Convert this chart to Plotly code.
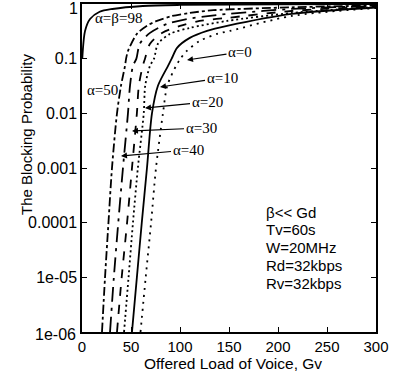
import plotly.graph_objects as go

# ---- data ----
a50_x = [20.4, 23.5, 27.0, 30.6, 35.7, 39.8, 43.9, 45.0, 47.0, 56.0, 66.0, 76.5, 92.0, 110.0, 134.0, 214.0, 300.0]
a50_y = [1e-6, 1e-5, 1e-4, 1e-3, 1e-2, 0.032, 0.074, 0.1, 0.139, 0.284, 0.397, 0.49, 0.604, 0.685, 0.77, 0.87, 0.94]

a40_x = [28.6, 32.5, 37.0, 41.8, 46.9, 49.0, 52.0, 55.5, 59.0, 69.4, 86.7, 107.0, 130.6, 148.0, 214.0, 300.0]
a40_y = [1e-6, 1e-5, 1e-4, 1e-3, 1e-2, 0.032, 0.074, 0.1, 0.187, 0.296, 0.432, 0.532, 0.604, 0.657, 0.811, 0.919]

a30_x = [35.7, 40.5, 46.0, 51.0, 56.0, 58.0, 62.0, 64.3, 69.4, 81.6, 100.0, 120.0, 148.0, 214.0, 300.0]
a30_y = [1e-6, 1e-5, 1e-4, 1e-3, 1e-2, 0.032, 0.074, 0.1, 0.187, 0.296, 0.397, 0.49, 0.556, 0.745, 0.90]

a20_x = [42.9, 47.5, 52.0, 57.0, 63.0, 64.5, 69.4, 73.5, 77.5, 89.8, 110.0, 148.0, 214.0, 300.0]
a20_y = [1e-6, 1e-5, 1e-4, 1e-3, 1e-2, 0.032, 0.074, 0.1, 0.187, 0.284, 0.365, 0.49, 0.685, 0.882]

a10_x = [51.0, 56.0, 61.0, 66.3, 71.4, 77.5, 87.8, 91.5, 97.0, 110.0, 127.6, 148.0, 214.0, 300.0]
a10_y = [1e-6, 1e-5, 1e-4, 1e-3, 1e-2, 0.032, 0.074, 0.1, 0.158, 0.24, 0.322, 0.397, 0.657, 0.863]

a0_x = [59.7, 65.0, 70.5, 75.5, 82.6, 87.0, 96.0, 100.5, 107.0, 120.0, 138.0, 151.0, 214.0, 300.0]
a0_y = [1e-6, 1e-5, 1e-4, 1e-3, 1e-2, 0.032, 0.074, 0.1, 0.139, 0.211, 0.284, 0.322, 0.604, 0.845]

a98_x = [0.3, 3.1, 8.2, 18.0, 31.0, 62.0, 100.0, 200.0, 300.0]
a98_y = [0.1, 0.32, 0.53, 0.72, 0.81, 0.92, 0.96, 0.985, 0.995]

y_tickvals = [1, 0.1, 0.01, 0.001, 0.0001, 1e-5, 1e-6]
y_ticktext = ["1", "0.1", "0.01", "0.001", "0.0001", "1e-05", "1e-06"]
x_tickvals = [0, 50, 100, 150, 200, 250, 300]

params = ["\u03b2&lt;&lt; Gd", "Tv=60s", "W=20MHz", "Rd=32kbps", "Rv=32kbps"]

series = [
    (a50_x, a50_y, "dashdot"),
    (a40_x, a40_y, "longdashdot"),
    (a30_x, a30_y, "dash"),
    (a20_x, a20_y, "2px,3px"),
    (a10_x, a10_y, "solid"),
    (a0_x, a0_y, "2px,5px"),
    (a98_x, a98_y, "solid"),
]

fig = go.Figure()
for xs, ys, dash in series:
    fig.add_trace(go.Scatter(x=xs, y=ys, mode="lines",
                             line=dict(color="black", width=1.8, dash=dash, shape="spline", smoothing=0.8),
                             showlegend=False, hoverinfo="skip"))

# helpers converting pixel positions (for text placement) into axis coordinates
L, R, T, B = 82, 376, 4, 332
def dx(px):
    return (px - L) * 300.0 / (R - L)
def dy(py):
    return -6.0 * (py - T) / (B - T)
def paper_x(px):
    return (px - L) / (R - L)
def paper_y(py):
    return (B - py) / (B - T)

FAM_SANS = "Liberation Sans, Arial, Helvetica, sans-serif"
serif = dict(family="Liberation Serif, Times New Roman, serif", size=15, color="black")
tickfont_y = dict(family=FAM_SANS, size=16, color="black")

arrows = [
    ("\u03b1=0", (187, 60), (240, 52)),
    ("\u03b1=10", (160, 87), (222, 78)),
    ("\u03b1=20", (145, 108), (207, 102)),
    ("\u03b1=30", (132, 131), (201, 128)),
    ("\u03b1=40", (121, 156), (188, 150)),
]
anns = []
for txt, head, tail in arrows:
    anns.append(dict(x=dx(head[0]), y=dy(head[1]), ax=dx(tail[0]), ay=dy(tail[1]),
                     axref="x", ayref="y", xref="x", yref="y", text=txt, showarrow=True,
                     arrowhead=2, arrowsize=1, arrowwidth=1.2, arrowcolor="black", font=serif))
anns.append(dict(x=dx(102), y=dy(90), xref="x", yref="y", text="\u03b1=50", showarrow=False, font=serif))
anns.append(dict(x=dx(118), y=dy(18), xref="x", yref="y", text="\u03b1=\u03b2=98", showarrow=False, font=serif))

for i, t in enumerate(params):
    anns.append(dict(x=dx(264), y=dy(212 + 17.8 * i), xref="x", yref="y", text=t, showarrow=False,
                     xanchor="left", yanchor="middle", font=dict(family=FAM_SANS, size=15, color="black")))

anns.append(dict(x=paper_x(233), y=paper_y(363), xref="paper", yref="paper",
                 xanchor="center", yanchor="middle",
                 text="Offered Load of Voice, Gv", showarrow=False, font=dict(family=FAM_SANS, size=15.5, color="black")))
anns.append(dict(x=paper_x(26), y=paper_y(135), xref="paper", yref="paper",
                 xanchor="center", yanchor="middle",
                 text="The Blocking Probability", showarrow=False, textangle=-90,
                 font=dict(family=FAM_SANS, size=15, color="black")))

# end tick labels sit slightly inside the frame in the reference
shown_text = list(y_ticktext)
shown_text[0] = ""
shown_text[-1] = ""
anns.append(dict(x=paper_x(80), y=paper_y(8), xref="paper", yref="paper", xanchor="right", yanchor="middle",
                 text=y_ticktext[0], showarrow=False, font=tickfont_y))
anns.append(dict(x=paper_x(78), y=paper_y(335), xref="paper", yref="paper", xanchor="right", yanchor="middle",
                 text=y_ticktext[-1], showarrow=False, font=tickfont_y))

fig.update_layout(
    width=394, height=378,
    margin=dict(l=L, r=394 - R, t=T, b=378 - B, autoexpand=False),
    paper_bgcolor="white", plot_bgcolor="white",
    annotations=anns,
)
fig.update_xaxes(range=[0, 300], tickvals=x_tickvals, ticks="inside", ticklen=5, tickcolor="black",
                 showline=True, linecolor="black", linewidth=1.5, mirror="ticks", showgrid=False,
                 zeroline=False, tickfont=dict(family=FAM_SANS, size=15, color="black"), automargin=False)
fig.update_yaxes(type="log", range=[-6, 0], tickvals=y_tickvals, ticktext=shown_text, ticks="inside",
                 ticklen=5, tickcolor="black", showline=True, linecolor="black", linewidth=1.5,
                 mirror="ticks", showgrid=False, zeroline=False,
                 tickfont=tickfont_y, ticklabeloverflow="allow", automargin=False)

fig.write_html("out.html", config={"displayModeBar": False},
               post_script="document.body.style.margin='0';document.body.style.overflow='hidden';")
